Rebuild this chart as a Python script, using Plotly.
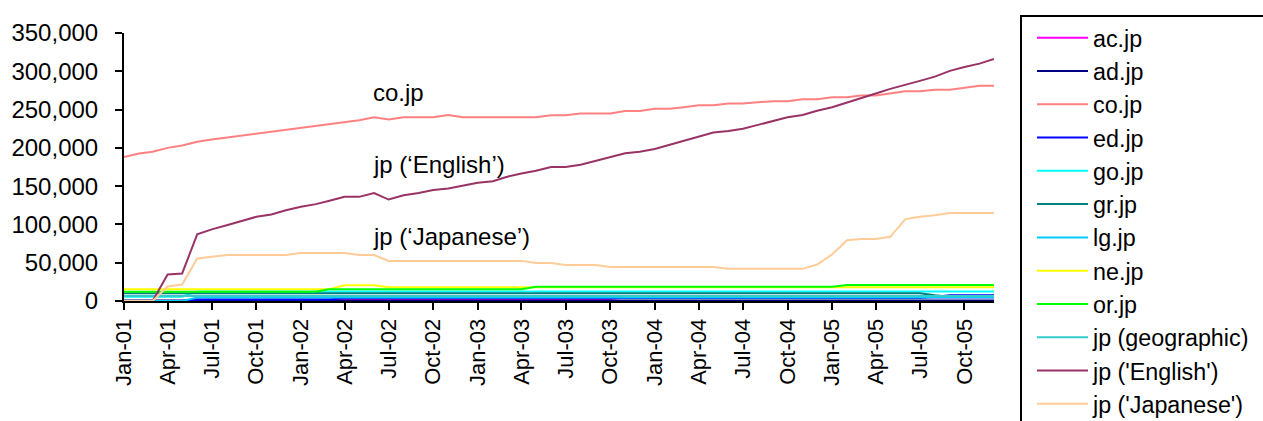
import plotly.graph_objects as go

# ---- categories (monthly, Jan-01 .. Dec-05) ----
months = [f"{y}-{m:02d}-01" for y in range(2001, 2006) for m in range(1, 13)]

tick_vals = [f"{y}-{m:02d}-01" for y in range(2001, 2006) for m in (1, 4, 7, 10)]
tick_text = [f"{mn}-{str(y)[2:]}" for y in range(2001, 2006) for mn in ("Jan", "Apr", "Jul", "Oct")]

y_tick_vals = [0, 50000, 100000, 150000, 200000, 250000, 300000, 350000]

# ---- series values ----
ac_jp = [0, 0, 0, 0, 0, 2000, 2000, 2000, 2000, 2000, 2000, 2000,
         2000, 2000, 2000, 2500, 2500, 2500, 2500, 2500, 2500, 2500, 2500, 2500,
         2500, 2500, 2500, 2500, 2500, 2500, 2500, 2500, 2500, 2500, 4500, 4500,
         4500, 4500, 4500, 4500, 4500, 4500, 4500, 4500, 4500, 4500, 4500, 4500,
         4500, 4500, 4500, 4500, 4500, 4500, 4500, 4500, 4500, 4500, 4500, 4500]

ad_jp = [500] * 60

co_jp = [188000, 192500, 195000, 200000, 203000, 208000, 211000, 213500, 216000, 218500, 221000, 223500,
         226000, 228500, 231000, 233500, 236000, 240000, 237000, 240000, 240000, 240000, 243000, 240000,
         240000, 240000, 240000, 240000, 240000, 242500, 242500, 245000, 245000, 245000, 248000, 248000,
         251000, 251000, 253000, 255500, 255500, 258000, 258000, 259500, 261000, 261000, 263500, 263500,
         266000, 266000, 268500, 268500, 271000, 274000, 274000, 276000, 276000, 278000, 281000, 281000]

ed_jp = [0, 0, 0, 0, 0, 2000, 2000, 2000, 2000, 2000, 2000, 2000,
         2000, 2000, 2000, 4000, 4000, 4000, 4000, 4000, 4000, 4000, 4000, 4000,
         4000, 4000, 4000, 4000, 4000, 4000, 4000, 4000, 4000, 4000, 4000, 4000,
         4000, 4000, 4000, 4000, 4000, 4000, 4000, 4000, 4000, 4000, 4000, 4000,
         4000, 4000, 4000, 4000, 4000, 4000, 4000, 5500, 7500, 7500, 7500, 7500]

go_jp = [5500, 5500, 5500, 5500, 5500, 12500, 12500, 12500, 12500, 12500, 12500, 12500,
         12500, 12500, 12500, 12500, 12500, 12500, 12500, 12500, 12500, 12500, 12500, 12500,
         12500, 12500, 12500, 12500, 12500, 12500, 12500, 12500, 12500, 12500, 12500, 12500,
         12500, 12500, 12500, 12500, 12500, 12500, 12500, 12500, 12500, 12500, 12500, 12500,
         12500, 12500, 12500, 12500, 12500, 12500, 12500, 12500, 12500, 12500, 12500, 12500]

gr_jp = [10000, 10000, 10000, 10000, 10000, 10000, 10000, 10000, 10000, 10000, 10000, 10000,
         10000, 10000, 10000, 10000, 10000, 10000, 10000, 10000, 10000, 10000, 10000, 10000,
         10000, 10000, 10000, 10000, 10000, 10000, 10000, 10000, 10000, 10000, 10000, 10000,
         10000, 10000, 10000, 10000, 10000, 10000, 10000, 10000, 10000, 10000, 10000, 10000,
         10000, 10000, 10000, 10000, 10000, 10000, 10000, 7500, 5700, 5700, 5700, 5700]

lg_jp = [0, 0, 0, 0, 0, 4500, 4500, 4500, 4500, 4500, 4500, 4500,
         4500, 4500, 4500, 4500, 4500, 4500, 4500, 4500, 4500, 4500, 4500, 4500,
         4500, 4500, 4500, 4500, 4500, 4500, 4500, 4500, 4500, 4500, 4500, 4500,
         4500, 4500, 4500, 4500, 4500, 4500, 4500, 4500, 4500, 4500, 4500, 4500,
         4500, 4500, 4500, 4500, 4500, 4500, 4500, 4500, 4500, 4500, 4500, 4500]

ne_jp = [15500, 15500, 15500, 15500, 15500, 15500, 15500, 15500, 15500, 15500, 15500, 15500,
         15500, 15500, 15500, 20500, 20500, 20500, 18000, 18000, 18000, 18000, 18000, 18000,
         18000, 18000, 18000, 18000, 18000, 18000, 18000, 18000, 18000, 18000, 18000, 18000,
         18000, 18000, 18000, 18000, 18000, 18000, 18000, 18000, 18000, 18000, 18000, 18000,
         18000, 18000, 18000, 18000, 18000, 18000, 18000, 18000, 18000, 18000, 18000, 18000]

or_jp = [12000, 12000, 12000, 12000, 12000, 12000, 12000, 12000, 12000, 12000, 12000, 12000,
         12000, 12000, 15500, 15500, 15500, 15500, 15500, 15500, 15500, 15500, 15500, 15500,
         15500, 15500, 15500, 15500, 18500, 18500, 18500, 18500, 18500, 18500, 18500, 18500,
         18500, 18500, 18500, 18500, 18500, 18500, 18500, 18500, 18500, 18500, 18500, 18500,
         18500, 21000, 21000, 21000, 21000, 21000, 21000, 21000, 21000, 21000, 21000, 21000]

jp_geo = [6500] * 60

jp_english = [0, 0, 0, 34500, 36000, 87000, 93500, 99000, 105000, 110000, 113000, 118500,
              123000, 126500, 131000, 136000, 136000, 141000, 132500, 138000, 141000, 145000, 147000, 151000,
              154500, 156500, 162000, 166500, 170000, 175000, 175000, 178000, 183000, 188500, 193000, 195000,
              198500, 204000, 209000, 214500, 220000, 222000, 225000, 230000, 235000, 240000, 243000, 248500,
              253000, 259000, 264000, 271000, 277000, 282000, 287500, 293000, 300500, 305500, 310000, 316000]

jp_japanese = [0, 0, 0, 19000, 21500, 55500, 57500, 60000, 60000, 60000, 60000, 60000,
               62800, 62800, 62800, 62800, 60000, 60000, 52400, 52400, 52400, 52400, 52400, 52400,
               52400, 52400, 52400, 52400, 49700, 49700, 47000, 47000, 47000, 44500, 44500, 44500,
               44500, 44500, 44500, 44500, 44500, 42000, 42000, 42000, 42000, 42000, 42000, 47600,
               60700, 79400, 81000, 81000, 83800, 107000, 110000, 112000, 115000, 115000, 115000, 115000]

series_names = ["ac.jp", "ad.jp", "co.jp", "ed.jp", "go.jp", "gr.jp", "lg.jp", "ne.jp", "or.jp",
                "jp (geographic)", "jp ('English')", "jp ('Japanese')"]
series_values = [ac_jp, ad_jp, co_jp, ed_jp, go_jp, gr_jp, lg_jp, ne_jp, or_jp,
                 jp_geo, jp_english, jp_japanese]
series_colors = ["#FF00FF", "#000080", "#FF8080", "#0000FF", "#00FFFF", "#008080", "#00CCFF",
                 "#FFFF00", "#00FF00", "#33CCCC", "#993366", "#FFCC99"]

FONT = "Liberation Sans, Arial, sans-serif"

fig = go.Figure()
for name, vals, col in zip(series_names, series_values, series_colors):
    fig.add_trace(go.Scatter(x=months, y=vals, name=name, mode="lines",
                             line=dict(color=col, width=2)))

annotations = [("co.jp", 272000), ("jp (\u2018English\u2019)", 178000), ("jp (\u2018Japanese\u2019)", 84700)]
for txt, yv in annotations:
    fig.add_annotation(x="2002-05-26", y=yv, xref="x", yref="y", text=txt, showarrow=False,
                       xanchor="left", yanchor="middle", font=dict(family=FONT, size=24, color="black"))

# legend frame (open at the bottom/right like the reference, which is cut by the page edge)
W, H = 1263, 421
L, R, T, B = 124, 269, 33, 120
pw, ph = W - L - R, H - T - B


def px_x(px):
    return (px - L) / pw


def px_y(py):
    return (H - B - py) / ph


fig.add_shape(type="rect", xref="paper", yref="paper",
              x0=px_x(1021), x1=px_x(1275), y0=px_y(440), y1=px_y(16),
              line=dict(color="black", width=2), fillcolor="rgba(0,0,0,0)", layer="above")

fig.update_layout(
    width=W, height=H,
    margin=dict(l=L, r=R, t=T, b=B, pad=0),
    paper_bgcolor="white", plot_bgcolor="white",
    font=dict(family=FONT, color="black", size=24),
    showlegend=True,
    legend=dict(xref="container", yref="container", x=1032 / W, y=1 - 16 / H,
                xanchor="left", yanchor="top", borderwidth=0,
                bgcolor="rgba(0,0,0,0)", font=dict(family=FONT, size=23.3, color="black"),
                itemwidth=51, maxheight=1000),
    xaxis=dict(type="date", range=["2001-01-01", "2005-12-01"], tickvals=tick_vals, ticktext=tick_text,
               tickangle=-90, ticks="outside", ticklen=7, tickwidth=2, tickcolor="black",
               showline=True, linecolor="black", linewidth=2, showgrid=False, zeroline=False,
               tickfont=dict(family=FONT, size=22, color="black")),
    yaxis=dict(range=[0, 350000], tickvals=y_tick_vals, tickformat=",", ticks="outside", ticklen=7,
               tickwidth=2, tickcolor="black", showline=True, linecolor="black", linewidth=2,
               showgrid=False, zeroline=False, ticklabelstandoff=12,
               tickfont=dict(family=FONT, size=24, color="black")),
)

fig.write_html("out.html")
